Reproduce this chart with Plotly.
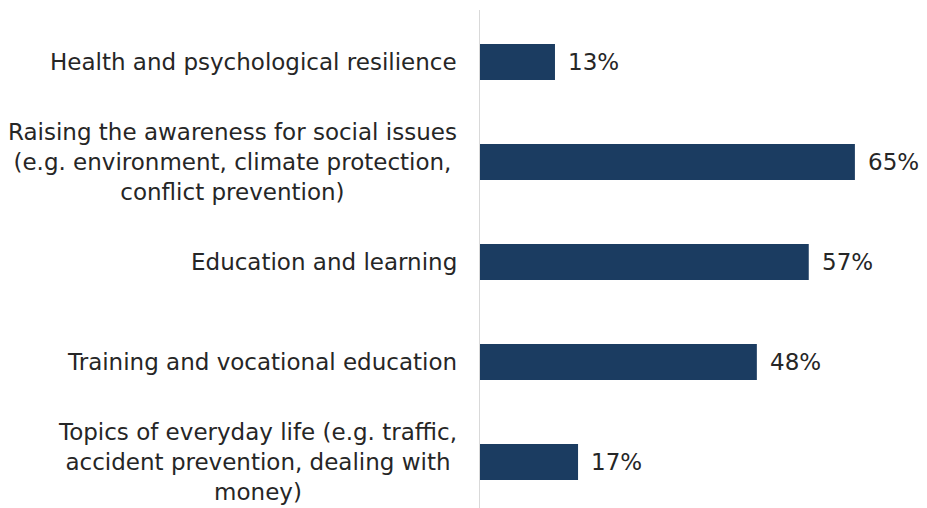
import plotly.graph_objects as go

# Survey topics (label lines separated by <br>) and share of respondents
categories = [
    "Health and psychological resilience",
    "Raising the awareness for social issues<br>(e.g. environment, climate protection,<br>conflict prevention)",
    "Education and learning",
    "Training and vocational education",
    "Topics of everyday life (e.g. traffic,<br>accident prevention, dealing with<br>money)",
]
values = [13, 65, 57, 48, 17]
value_labels = [f"{v}%" for v in values]

BAR_COLOR = "#1b3c61"
TEXT_COLOR = "#262626"
FONT = "Verdana, DejaVu Sans, sans-serif"
FONT_SIZE = 23

fig = go.Figure(
    go.Bar(
        x=values,
        y=categories,
        orientation="h",
        marker=dict(color=BAR_COLOR, line=dict(width=0)),
        width=0.36,
        hoverinfo="skip",
    )
)

annotations = []
# Category labels: right-aligned block, lines centred within it
for cat in categories:
    annotations.append(
        dict(
            x=0, xref="paper", y=cat, yref="y",
            text=cat, showarrow=False,
            xanchor="right", yanchor="middle", align="center",
            xshift=-21,
            font=dict(family=FONT, size=FONT_SIZE, color=TEXT_COLOR),
        )
    )
# Value labels just past each bar end
for cat, v, lab in zip(categories, values, value_labels):
    annotations.append(
        dict(
            x=v, xref="x", y=cat, yref="y",
            text=lab, showarrow=False,
            xanchor="left", yanchor="middle",
            xshift=11,
            font=dict(family=FONT, size=FONT_SIZE, color=TEXT_COLOR),
        )
    )

fig.update_layout(
    width=927,
    height=508,
    margin=dict(l=480, r=0, t=10, b=0),
    paper_bgcolor="white",
    plot_bgcolor="white",
    showlegend=False,
    annotations=annotations,
    xaxis=dict(
        range=[0, 77.5], visible=False, showgrid=False, zeroline=False,
    ),
    yaxis=dict(
        type="category",
        categoryorder="array",
        categoryarray=categories,
        range=[4.46, -0.52],
        showticklabels=False,
        showgrid=False,
        zeroline=False,
        showline=True,
        linecolor="#d9d9d9",
        linewidth=1,
        ticks="",
    ),
)

fig.write_html("out.html")
